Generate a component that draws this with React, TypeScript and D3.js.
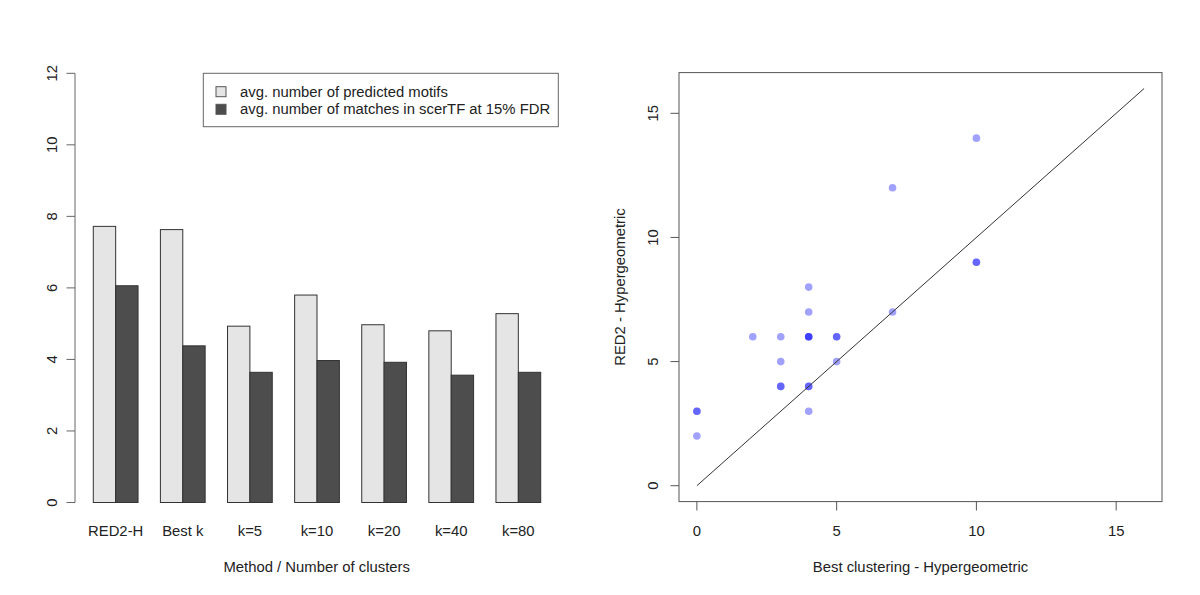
import React from "react";
import * as d3 from "d3";

const categories = ["RED2-H", "Best k", "k=5", "k=10", "k=20", "k=40", "k=80"];
const predicted = [7.72, 7.63, 4.93, 5.8, 4.97, 4.8, 5.28];
const matches = [6.06, 4.38, 3.64, 3.97, 3.92, 3.56, 3.64];
const barTicks = [0, 2, 4, 6, 8, 10, 12];
const legendLabels = ["avg. number of predicted motifs", "avg. number of matches in scerTF at 15% FDR"];

const bestX = [0, 0, 0, 2, 3, 3, 3, 3, 4, 4, 4, 4, 4, 4, 4, 4, 5, 5, 5, 7, 7, 10, 10, 10];
const red2Y = [3, 3, 2, 6, 6, 5, 4, 4, 8, 7, 6, 6, 6, 4, 4, 3, 6, 6, 5, 12, 7, 14, 9, 9];
const scatterTicks = [0, 5, 10, 15];
const diag = [0, 16];

const FONT = "'Liberation Sans', Arial, Helvetica, sans-serif";
const FS = 14.85;
const LIGHT = "#e5e5e5";
const DARK = "#4d4d4d";

export default function App() {
  // Left bar chart
  const bx = d3.scaleLinear().domain([0.2, 21.8]).range([75.4, 558.6]);
  const by = d3.scaleLinear().domain([0, 12]).range([502.5, 73.3]);
  const unit = bx(1) - bx(0);

  // Right scatter
  const sx = d3.scaleLinear().domain([-0.64, 16.64]).range([679, 1162]);
  const sy = d3.scaleLinear().domain([-0.64, 16.64]).range([501.6, 72.6]);
  const line = d3.line<number>().x((d) => sx(d)).y((d) => sy(d));

  return (
    <svg width={1200} height={595} style={{ position: "absolute", left: 0, top: 0, background: "#fff" }} fontFamily={FONT} fontSize={FS}>
      <rect x={0} y={0} width={1200} height={595} fill="#fff" />
      {/* Bars */}
      {categories.map((c, i) => (
        <g key={c}>
          <rect x={bx(1 + 3 * i)} y={by(predicted[i])} width={unit} height={by(0) - by(predicted[i])} fill={LIGHT} stroke="#333" strokeWidth={1} />
          <rect x={bx(2 + 3 * i)} y={by(matches[i])} width={unit} height={by(0) - by(matches[i])} fill={DARK} stroke="#333" strokeWidth={1} />
          <text x={bx(2 + 3 * i)} y={531} textAnchor="middle" dominantBaseline="central" fill="#222">{c}</text>
        </g>
      ))}
      {/* Left y axis */}
      <line x1={75} x2={75} y1={by(0)} y2={by(12)} stroke="#666" />
      {barTicks.map((t) => (
        <g key={t}>
          <line x1={66.5} x2={75} y1={by(t)} y2={by(t)} stroke="#666" />
          <text transform={`translate(51.5,${by(t)}) rotate(-90)`} textAnchor="middle" dominantBaseline="central" fill="#222">{t}</text>
        </g>
      ))}
      <text x={316.7} y={567} textAnchor="middle" dominantBaseline="central" fill="#222">Method / Number of clusters</text>
      {/* Legend */}
      <rect x={203.3} y={73.3} width={355} height={53.4} fill="#fff" stroke="#666" />
      {[LIGHT, DARK].map((col, i) => (
        <g key={i}>
          <rect x={216} y={(i === 0 ? 91.7 : 109.3) - 5} width={10} height={10} fill={col} stroke="#555" />
          <text x={240} y={i === 0 ? 91.7 : 109.3} dominantBaseline="central" fill="#222">{legendLabels[i]}</text>
        </g>
      ))}

      {/* Scatter box */}
      <rect x={679} y={72.6} width={1162 - 679} height={501.6 - 72.6} fill="none" stroke="#555" />
      {scatterTicks.map((t) => (
        <g key={"x" + t}>
          <line x1={sx(t)} x2={sx(t)} y1={501.6} y2={510.5} stroke="#555" />
          <text x={sx(t)} y={531} textAnchor="middle" dominantBaseline="central" fill="#222">{t}</text>
        </g>
      ))}
      {scatterTicks.map((t) => (
        <g key={"y" + t}>
          <line x1={670.5} x2={679} y1={sy(t)} y2={sy(t)} stroke="#555" />
          <text transform={`translate(653,${sy(t)}) rotate(-90)`} textAnchor="middle" dominantBaseline="central" fill="#222">{t}</text>
        </g>
      ))}
      <text x={920.5} y={567} textAnchor="middle" dominantBaseline="central" fill="#222">Best clustering - Hypergeometric</text>
      <text transform={`translate(620,287) rotate(-90)`} textAnchor="middle" dominantBaseline="central" fill="#222">RED2 - Hypergeometric</text>
      {bestX.map((x, i) => (
        <circle key={i} cx={sx(x)} cy={sy(red2Y[i])} r={3.8} fill="#0000ff" fillOpacity={0.37} />
      ))}
      <path d={line(diag) || ""} fill="none" stroke="#333" strokeWidth={1} />
    </svg>
  );
}
